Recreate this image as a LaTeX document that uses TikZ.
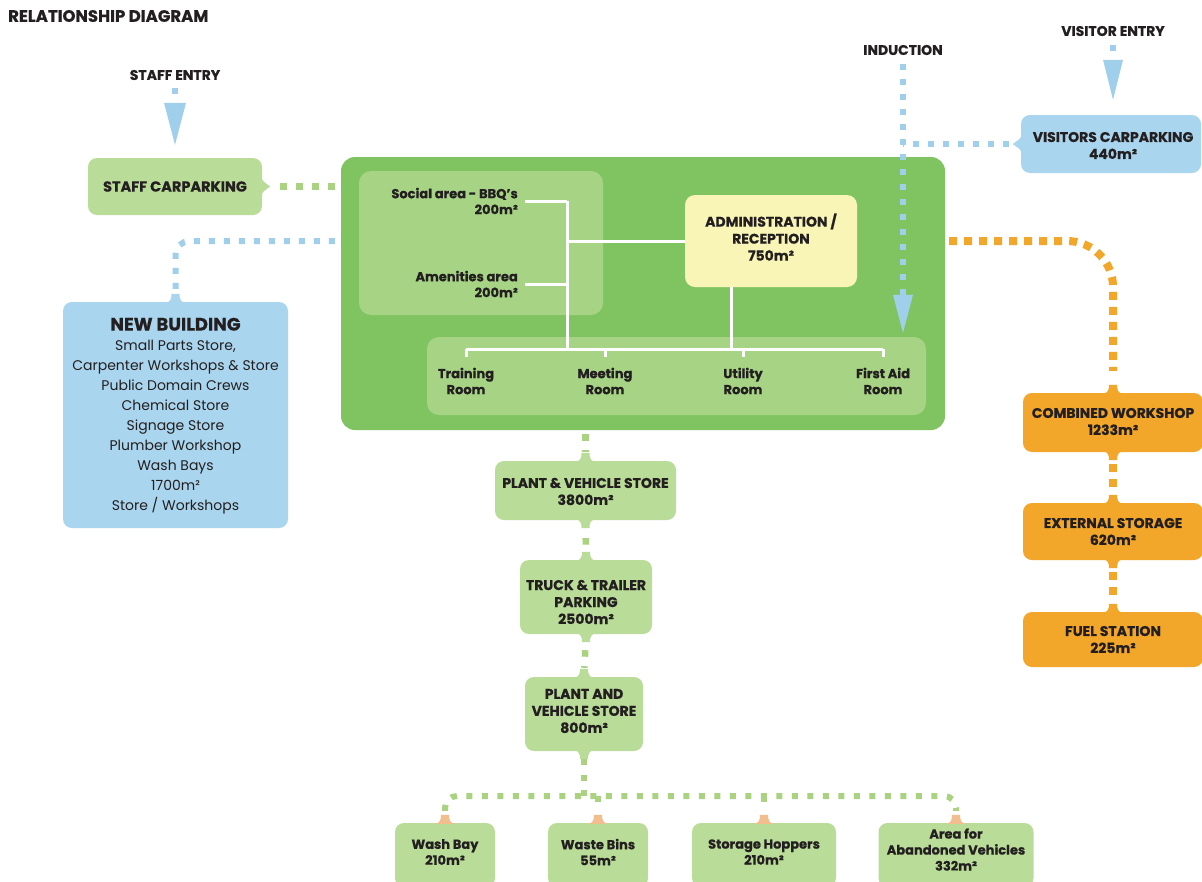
\documentclass[tikz,border=0pt]{standalone}
\usepackage{fontspec}
\setmainfont{Poppins}[BoldFeatures={FakeBold=0.6}]
\usetikzlibrary{calc}
\definecolor{ink}{RGB}{35,31,32}
\definecolor{maingreen}{RGB}{128,196,98}
\definecolor{boxgreen}{RGB}{185,220,152}
\definecolor{innergreen}{RGB}{166,211,132}
\definecolor{adminyellow}{RGB}{248,245,182}
\definecolor{boxblue}{RGB}{170,213,238}
\definecolor{dotblue}{RGB}{160,207,235}
\definecolor{boxorange}{RGB}{242,166,42}
\definecolor{dotgreen}{RGB}{170,210,128}
\definecolor{tabpeach}{RGB}{243,190,142}
\newcommand\fsz[2]{\fontsize{#1}{#2}\selectfont}
\newcommand\tabN[2]{\fill[#1,shift={(#2)}] (-11,1) .. controls (-5,1) and (-4,-3) .. (-4,-8) -- (4,-8) .. controls (4,-3) and (5,1) .. (11,1) -- cycle;}
\newcommand\tabS[2]{\fill[#1,shift={(#2)}] (-11,-1) .. controls (-5,-1) and (-4,3) .. (-4,8) -- (4,8) .. controls (4,3) and (5,-1) .. (11,-1) -- cycle;}
\newcommand\tabE[2]{\fill[#1,shift={(#2)}] (-1,-11) .. controls (-1,-5) and (3,-4) .. (8,0) .. controls (3,4) and (-1,5) .. (-1,11) -- cycle;}
\newcommand\tabW[2]{\fill[#1,shift={(#2)}] (1,-11) .. controls (1,-5) and (-3,-4) .. (-8,0) .. controls (-3,4) and (1,5) .. (1,11) -- cycle;}
\begin{document}
\begin{tikzpicture}[x=1pt,y=-1pt,
  lbl/.style={text=ink, inner sep=0pt, align=center, font=\bfseries\fsz{14}{17}},
  mlbl/.style={text=ink, inner sep=0pt, align=center, font=\bfseries\fsz{13}{16}},
  gbox/.style={fill=boxgreen, rounded corners=9pt, inner sep=0pt},
  bbox/.style={fill=boxblue, rounded corners=9pt, inner sep=0pt},
  obox/.style={fill=boxorange, rounded corners=9pt, inner sep=0pt},
  ibox/.style={fill=innergreen, rounded corners=12pt, inner sep=0pt},
  gdot/.style={draw=dotgreen, line width=6.5pt, dash pattern=on 6.5pt off 9.5pt},
  bdot/.style={draw=dotblue, line width=6pt, dash pattern=on 6pt off 9pt},
  odot/.style={draw=boxorange, line width=8pt, dash pattern=on 8pt off 7pt},
  wline/.style={draw=white, line width=3pt},
  tri/.style={fill=dotblue}]
\clip (0,0) rectangle (1202,881);
\fill[white] (0,0) rectangle (1202,881);

% title and entries
\node[lbl, anchor=west] (title) at (8,16) {\fsz{16.5}{18}RELATIONSHIP DIAGRAM};
\node[lbl] (staffentry) at (175,75) {STAFF ENTRY};
\node[lbl] (induction) at (903,50) {INDUCTION};
\node[lbl] (visitentry) at (1113,31) {VISITOR ENTRY};

% main building
\node[fill=maingreen, rounded corners=14pt, minimum width=604pt, minimum height=273pt, inner sep=0pt] (main) at (643,293.5) {};
\node[ibox, minimum width=244pt, minimum height=144pt] (social) at (481,243) {};
\node[ibox, minimum width=499pt, minimum height=78pt] (rooms) at (676.5,376) {};
\node[fill=adminyellow, rounded corners=10pt, minimum width=172pt, minimum height=92pt, inner sep=0pt] (admin) at (771,241) {};
\node[lbl] (admintxt) at (771,237) {ADMINISTRATION /\\RECEPTION\\750m²};
\node[mlbl, anchor=east, align=right] (socialtxt) at (518,201) {Social area - BBQ’s\\200m²};
\node[mlbl, anchor=east, align=right] (amentxt) at (518,284) {Amenities area\\200m²};
\node[mlbl] (troom) at (466,381) {Training\\Room};
\node[mlbl] (mroom) at (605,381) {Meeting\\Room};
\node[mlbl] (uroom) at (743,381) {Utility\\Room};
\node[mlbl] (froom) at (883,381) {First Aid\\Room};

\coordinate (vtop) at (567,201);
\coordinate (vbot) at (567,349);
\coordinate (av) at (731,0);
\draw[wline] ($(socialtxt.east)+(7,0)$) -- (socialtxt.east -| vtop);
\draw[wline] ($(amentxt.east)+(7,0)$) -- (amentxt.east -| vtop);
\draw[wline] (vtop) -- (vbot);
\draw[wline] (vtop |- admin.west) -- (admin.west);
\draw[wline] (av |- admin.south) -- (av |- vbot);
\draw[wline] (troom.north |- vbot) -- (froom.north |- vbot);
\foreach \n in {troom,mroom,uroom,froom} \draw[wline] (\n.north |- vbot) -- ++(0,8);

% left side
\node[gbox, minimum width=174pt, minimum height=57pt] (staffpark) at (175,186.5) {};
\node[lbl] at (175,186.5) {\fsz{14.5}{17}STAFF CARPARKING};
\tabE{boxgreen}{staffpark.east}
\node[bbox, minimum width=225pt, minimum height=226pt] (newbldg) at (175.5,415) {};
\tabN{boxblue}{newbldg.north}
\node[text=ink, inner sep=0pt, align=center, font=\fsz{14}{20}] at (175.5,416) {{\bfseries\fsz{18}{22}NEW BUILDING}\\Small Parts Store,\\Carpenter Workshops \& Store\\Public Domain Crews\\Chemical Store\\Signage Store\\Plumber Workshop\\Wash Bays\\1700m²\\Store / Workshops};

\draw[bdot, shorten <=8pt] (staffentry.south) -- ($(staffpark.north)+(0,-55)$);
\fill[tri] ($(staffpark.north)+(-11,-55)$) -- ($(staffpark.north)+(11,-55)$) -- ($(staffpark.north)+(0,-13)$) -- cycle;
\draw[gdot, shorten <=18pt, shorten >=4pt] (staffpark.east) -- (staffpark.east -| main.west);
\draw[bdot, rounded corners=14pt, shorten <=6pt, shorten >=10pt] (admin.west -| main.west) -| (newbldg.north);

% right side
\node[bbox, minimum width=180pt, minimum height=58pt] (visitpark) at (1111,144) {};
\tabW{boxblue}{visitpark.west}
\node[lbl] at (1113,145.5) {VISITORS CARPARKING\\440m²};
\draw[bdot, shorten <=9pt] (visitentry.south) -- (visitentry.south |- 0,60);
\fill[tri] ($(visitentry.south |- visitpark.north)+(-10,-55)$) -- ($(visitentry.south |- visitpark.north)+(10,-55)$) -- ($(visitentry.south |- visitpark.north)+(0,-15)$) -- cycle;
\draw[bdot, shorten <=12pt] (visitpark.west) -- (visitpark.west -| induction);
\draw[bdot, shorten <=9pt] (induction.south) -- ($(induction |- rooms.north)+(0,-42)$);
\fill[tri] ($(induction |- rooms.north)+(-10,-42)$) -- ($(induction |- rooms.north)+(10,-42)$) -- ($(induction |- rooms.north)+(0,-4)$) -- cycle;

\node[obox, minimum width=180pt, minimum height=59pt] (combined) at (1113,422.5) {};
\node[obox, minimum width=180pt, minimum height=57pt] (external) at (1113,531.5) {};
\node[obox, minimum width=180pt, minimum height=55pt] (fuel) at (1113,639.5) {};
\tabN{boxorange}{combined.north}
\tabS{boxorange}{combined.south}
\tabN{boxorange}{external.north}
\tabS{boxorange}{external.south}
\tabN{boxorange}{fuel.north}
\node[lbl] at (1113,421.5) {COMBINED WORKSHOP\\1233m²};
\node[lbl] at (1113,531.5) {EXTERNAL STORAGE\\620m²};
\node[lbl] at (1113,639.5) {FUEL STATION\\225m²};
\draw[odot, rounded corners=46pt, shorten <=4pt, shorten >=22pt] (admin.east -| main.east) -| (combined.north);
\draw[odot, shorten <=12pt, shorten >=12pt] (combined.south) -- (external.north);
\draw[odot, shorten <=12pt, shorten >=12pt] (external.south) -- (fuel.north);

% central chain
\node[gbox, minimum width=181pt, minimum height=59pt] (plant1) at (585.5,490.5) {};
\node[gbox, minimum width=132pt, minimum height=74pt] (truck) at (586,597) {};
\node[gbox, minimum width=118pt, minimum height=74pt] (plant2) at (584,714) {};
\foreach \n in {plant1,truck,plant2} {\tabN{boxgreen}{\n.north}\tabS{boxgreen}{\n.south}}
\node[lbl] at (585.5,491.5) {PLANT \& VEHICLE STORE\\3800m²};
\node[lbl] at (586,602) {TRUCK \& TRAILER\\PARKING\\2500m²};
\node[lbl] at (584,711) {PLANT AND\\VEHICLE STORE\\800m²};
\draw[gdot, shorten <=4pt, shorten >=9pt] (plant1 |- main.south) -- (plant1.north);
\draw[gdot, shorten <=18pt, shorten >=9pt] (plant1.south) -- (truck.north);
\draw[gdot, shorten <=16pt, shorten >=9pt] (truck.south) -- (plant2.north);

% bottom row
\node[gbox, minimum width=100pt, minimum height=64pt] (washbay) at (445,855) {};
\node[gbox, minimum width=100pt, minimum height=64pt] (wastebins) at (598,855) {};
\node[gbox, minimum width=144pt, minimum height=64pt] (hoppers) at (764,855) {};
\node[gbox, minimum width=155pt, minimum height=64pt] (abandoned) at (956,855) {};
\foreach \n in {washbay,wastebins,hoppers,abandoned} {\tabN{tabpeach}{\n.north}}
\node[mlbl] at (445,852) {Wash Bay\\210m²};
\node[mlbl] at (598,852) {Waste Bins\\55m²};
\node[mlbl] at (764,852) {Storage Hoppers\\210m²};
\node[mlbl] at (956,849.5) {Area for\\Abandoned Vehicles\\332m²};
\coordinate (bus) at (584,796);
\draw[gdot, line width=6pt, dash pattern=on 6pt off 9.5pt, shorten <=8pt] (plant2.south) -- (bus);
\draw[gdot, line width=6pt, dash pattern=on 6pt off 9.5pt, rounded corners=12pt, shorten <=12pt, shorten >=12pt] (washbay.north) |- (bus) -| (abandoned.north);
\foreach \n in {wastebins,hoppers} \draw[gdot, line width=6pt, dash pattern=on 6pt off 9.5pt, shorten >=12pt] (\n.north |- bus) -- (\n.north);
\end{tikzpicture}
\end{document}
